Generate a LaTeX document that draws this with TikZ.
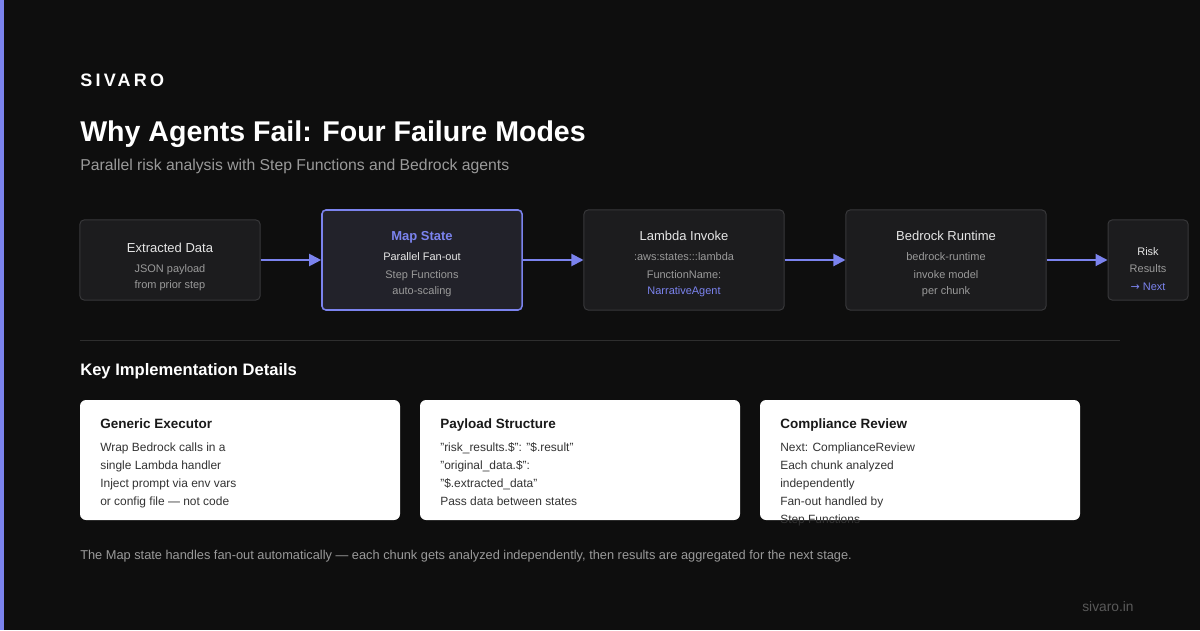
\documentclass[tikz,border=0pt]{standalone}
\usepackage{fontspec}
\setmainfont{Liberation Sans}
\newfontfamily\brandfont[LetterSpace=18]{Liberation Sans}
\newfontfamily\arrowfont{DejaVu Sans}
\usetikzlibrary{arrows.meta}
\definecolor{bgdark}{HTML}{0E0E0E}
\definecolor{accent}{HTML}{7B83EE}
\definecolor{boxfill}{HTML}{1C1C1E}
\definecolor{boxline}{HTML}{38383A}
\definecolor{mutedtxt}{HTML}{9A9A9A}
\definecolor{headtxt}{HTML}{E6E6E6}
\definecolor{cardtxt}{HTML}{333333}
\definecolor{rulegray}{HTML}{2E2E2E}

\begin{document}
\begin{tikzpicture}[x=0.025cm,y=-0.025cm,every node/.style={inner sep=0pt},
  stage/.style={draw=boxline, line width=0.7pt, fill=boxfill, rounded corners=0.1cm, minimum width=5cm, minimum height=2.5cm},
  flow/.style={accent, line width=1.4pt, -{Triangle[length=0.3cm,width=0.3cm]}},
  ttl/.style={anchor=base, text=headtxt, font=\fontsize{9.25}{11}\selectfont},
  sub/.style={anchor=base, text=mutedtxt, font=\fontsize{7.8}{9}\selectfont},
  card/.style={fill=white, rounded corners=0.15cm},
  cardttl/.style={anchor=base west, text=black!90, font=\bfseries\fontsize{9.6}{11}\selectfont},
  cardln/.style={anchor=base west, text=cardtxt, font=\fontsize{8.5}{10}\selectfont}]
\fill[bgdark] (0,0) rectangle (1200,630);\fill[accent] (0,0) rectangle (4,630);
\node[anchor=base west, text=white, font=\brandfont\bfseries\fontsize{12.8}{14}\selectfont] (brand) at (80,87) {SIVARO};
\node[anchor=base west, text=white, font=\bfseries\fontsize{20.3}{24}\selectfont] (title) at (80,141) {Why Agents Fail: Four Failure Modes};
\node[anchor=base west, text=mutedtxt, font=\fontsize{11.2}{13}\selectfont] (subtitle) at (80,170) {Parallel risk analysis with Step Functions and Bedrock agents};
% pipeline
\node[stage, minimum width=4.5cm, minimum height=2cm] (ext) at (170,260) {};
\node[stage, draw=accent, line width=1.1pt, fill=boxfill!90!accent!60!boxfill] (map) at (422,260) {};
\node[stage] (lam) at (684,260) {};\node[stage] (bed) at (946,260) {};
\node[stage, minimum width=2cm, minimum height=2cm] (risk) at (1148,260) {};
\draw[flow] (ext) -- (map);\draw[flow] (map) -- (lam);\draw[flow] (lam) -- (bed);\draw[flow] (bed) -- (risk);
\node[ttl] (extT) at (170,252) {Extracted Data};\node[sub] (extA) at (170,272) {JSON payload};\node[sub] (extB) at (170,288) {from prior step};
\node[ttl, text=accent, font=\bfseries\fontsize{9.25}{11}\selectfont] (mapT) at (422,240) {Map State};\node[sub, text=headtxt] (mapA) at (422,260) {Parallel Fan-out};
\node[sub] (mapB) at (422,278) {Step Functions};\node[sub] (mapC) at (422,294) {auto-scaling};
\node[ttl] (lamT) at (684,240) {Lambda Invoke};\node[sub] (lamA) at (684,260) {:aws:states:::lambda};
\node[sub] (lamB) at (684,278) {FunctionName:};\node[sub, text=accent] (lamC) at (684,294) {NarrativeAgent};
\node[ttl] (bedT) at (946,240) {Bedrock Runtime};\node[sub] (bedA) at (946,260) {bedrock-runtime};
\node[sub] (bedB) at (946,278) {invoke model};\node[sub] (bedC) at (946,294) {per chunk};
\node[sub, text=headtxt] (riskT) at (1148,255) {Risk};\node[sub] (riskA) at (1148,272) {Results};\node[sub, text=accent] (riskB) at (1148,290) {{\arrowfont→} Next};
\draw[rulegray, line width=0.7pt] (80,340) -- (1120,340);
\node[anchor=base west, text=white, font=\bfseries\fontsize{11.8}{14}\selectfont] (details) at (80,375) {Key Implementation Details};
% cards
\fill[card] (80,400) rectangle (400,520);\fill[card] (420,400) rectangle (740,520);\fill[card] (760,400) rectangle (1080,520);
\node[cardttl] (genT) at (100,428) {Generic Executor};
\node[cardln] at (100,451) {Wrap Bedrock calls in a};\node[cardln] at (100,469) {single Lambda handler};
\node[cardln] at (100,487) {Inject prompt via env vars};\node[cardln] at (100,505) {or config file --- not code};
\node[cardttl] (payT) at (440,428) {Payload Structure};
\node[cardln] at (440,451) {"risk\_results.\$": "\$.result"};\node[cardln] at (440,469) {"original\_data.\$":};
\node[cardln] at (440,487) {"\$.extracted\_data"};\node[cardln] at (440,505) {Pass data between states};
\node[cardttl] (comT) at (780,428) {Compliance Review};
\node[cardln] at (780,451) {Next: ComplianceReview};\node[cardln] at (780,469) {Each chunk analyzed};
\node[cardln] at (780,487) {independently};\node[cardln] at (780,505) {Fan-out handled by};\node[cardln] at (780,523) {Step Functions};
\node[anchor=base west, text=mutedtxt, font=\fontsize{9.1}{11}\selectfont] (footer) at (80,559) {The Map state handles fan-out automatically --- each chunk gets analyzed independently, then results are aggregated for the next stage.};
\node[anchor=base west, text=black!65, font=\fontsize{9.8}{11}\selectfont] (site) at (1082,611) {sivaro.in};
\end{tikzpicture}
\end{document}
